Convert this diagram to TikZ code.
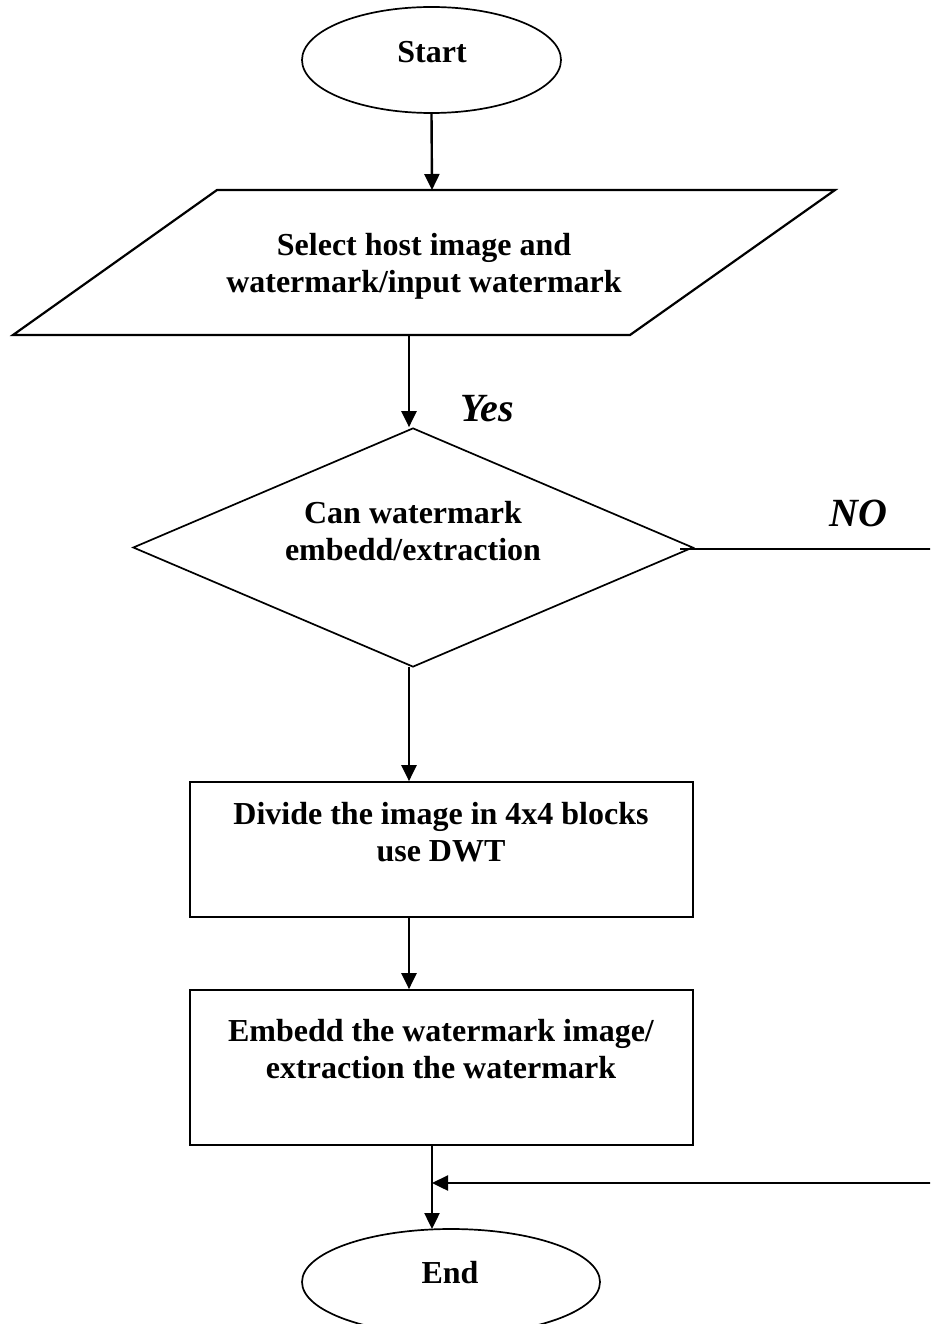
\documentclass[tikz,border=0pt]{standalone}
\usepackage{fontspec}
\setmainfont{Liberation Serif}
\usetikzlibrary{shapes.geometric,arrows.meta}
\begin{document}
\begin{tikzpicture}[x=1pt,y=-1pt,
  shapeline/.style={draw=black,line width=1.7pt},
  flowarrow/.style={line width=2.4pt,-{Triangle[length=16pt,width=15pt]}},
  plainline/.style={line width=2.2pt},
  term/.style={shapeline,ellipse,minimum width=#1,minimum height=106pt,inner sep=0pt},
  procbox/.style={shapeline,rectangle,minimum width=503pt,minimum height=#1,inner sep=0pt},
  txt/.style={font=\bfseries\fontsize{32}{37}\selectfont,align=center,inner sep=0pt},
  answer/.style={font=\bfseries\itshape\fontsize{40}{44}\selectfont,inner sep=0pt}]
\useasboundingbox (0,0) rectangle (930,1324);
\clip (0,0) rectangle (930,1324);
% Start
\node[term=259pt] (start) at (431.5,60) {};
\node[txt] (starttxt) at (432,52) {Start};
% Parallelogram
\draw[line width=2.2pt,line join=miter] (217,190) -- (835,190) -- (630,335) -- (13,335) -- cycle;
\coordinate (partop) at (432,190);
\coordinate (parbot) at (409,335);
\node[txt] (partxt) at (424,266) {Select host image and\\watermark/input watermark};
\draw[flowarrow] (start.south) -- (partop);
% Diamond
\node[shapeline,diamond,minimum width=560pt,minimum height=239pt,inner sep=0pt] (dia) at (413,547.5) {};
\node[txt] (diatxt) at (413,531) {Can watermark\\embedd/extraction};
\draw[flowarrow] (parbot) -- (parbot |- dia.north);
\node[answer] (yes) at (487,409) {Yes};
% NO branch
\coordinate (nostart) at (680,549);
\coordinate (noend) at (931,549);
\draw[plainline] (nostart) -- (noend);
\node[answer] (no) at (858,513) {NO};
% Box 1
\node[procbox=135pt] (box1) at (441.5,849.5) {};
\node[txt] (box1txt) at (441,832) {Divide the image in 4x4 blocks\\use DWT};
\coordinate (diabot) at (409,667);
\draw[flowarrow] (diabot) -- (diabot |- box1.north);
% Box 2
\node[procbox=155pt] (box2) at (441.5,1067.5) {};
\node[txt] (box2txt) at (441,1049) {Embedd the watermark image/\\extraction the watermark};
\coordinate (b1bot) at (409,917);
\draw[flowarrow] (b1bot) -- (b1bot |- box2.north);
% End
\node[term=298pt] (end) at (451,1282) {};
\node[txt] (endtxt) at (450,1273) {End};
\coordinate (b2bot) at (432,1145);
\coordinate (endtop) at (432,1229);
\draw[flowarrow] (b2bot) -- (endtop);
% Return line
\coordinate (retstart) at (931,1183);
\coordinate (retend) at (432,1183);
\draw[flowarrow] (retstart) -- (retend);
\end{tikzpicture}
\end{document}
